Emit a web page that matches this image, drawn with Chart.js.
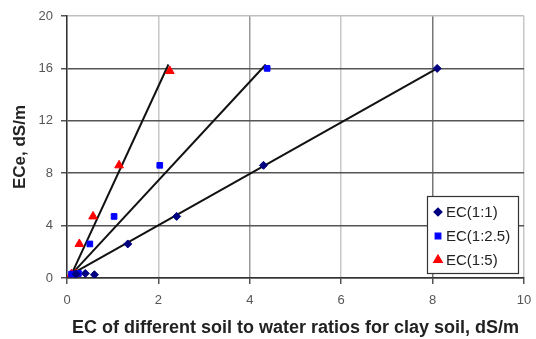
<!DOCTYPE html>
<html>
<head>
<meta charset="utf-8">
<script src="https://cdn.jsdelivr.net/npm/chart.js@4/dist/chart.umd.min.js"></script>
<style>
html,body{margin:0;padding:0;background:#fff;}
#wrap{width:536px;height:339px;}
</style>
</head>
<body>
<div id="wrap"><canvas id="myChart" width="536" height="339"></canvas></div>
<script>
// EC(1:1) - navy diamonds
var ec11X = [0.2, 0.4, 0.6, 1.33, 2.4, 4.3, 8.1];
var ec11Y = [0.3, 0.35, 0.25, 2.6, 4.7, 8.6, 16];
// EC(1:2.5) - blue squares
var ec25X = [0.1, 0.25, 0.5, 1.03, 2.03, 4.38];
var ec25Y = [0.3, 0.35, 2.6, 4.7, 8.6, 16];
// EC(1:5) - red triangles
var ec15X = [0.1, 0.2, 0.27, 0.57, 1.14, 2.25];
var ec15Y = [0.3, 0.3, 2.6, 4.7, 8.6, 15.8];
// fitted lines, start and end points
var fit11X = [0.1, 8.1], fit11Y = [0.3, 16];
var fit25X = [0.1, 4.35], fit25Y = [0.3, 16.3];
var fit15X = [0.1, 2.22], fit15Y = [0.3, 16.3];

var xTicks = [0, 2, 4, 6, 8, 10];
var yTicks = [0, 4, 8, 12, 16, 20];
var labels = ['EC(1:1)', 'EC(1:2.5)', 'EC(1:5)'];
var xTitle = 'EC of different soil to water ratios for clay soil, dS/m';
var yTitle = 'ECe, dS/m';

var FONT = '"Liberation Sans", Arial, sans-serif';

function pts(xs, ys){
    var a = [];
    for(var i=0;i<xs.length;i++) a.push({x: xs[i], y: ys[i]});
    return a;
}

function fitLine(xs, ys){
    return {
        data: pts(xs, ys), showLine: true, borderColor: '#111', borderWidth: 2,
        pointRadius: 0, fill: false, order: 5
    };
}

var markers = [
    {label: labels[0], data: pts(ec11X, ec11Y), pointStyle: 'rectRot', pointRadius: 4, backgroundColor: '#000080', borderColor: '#000080'},
    {label: labels[1], data: pts(ec25X, ec25Y), pointStyle: 'rect', pointRadius: 4, backgroundColor: '#0000ff', borderColor: '#0000ff'},
    {label: labels[2], data: pts(ec15X, ec15Y), pointStyle: 'triangle', pointRadius: 5, backgroundColor: '#ff0000', borderColor: '#ff0000'}
];

var boxLegend = {
    id: 'boxLegend',
    afterDraw: function(chart){
        var ctx = chart.ctx, ca = chart.chartArea;
        var w = 91, h = 77;
        var x0 = ca.right - 97, y0 = ca.bottom - 82;
        ctx.save();
        ctx.fillStyle = '#fff';
        ctx.fillRect(x0, y0, w, h);
        ctx.strokeStyle = '#333';
        ctx.lineWidth = 1.2;
        ctx.strokeRect(x0 + 0.5, y0 + 0.5, w, h);
        ctx.font = '15px ' + FONT;
        ctx.textBaseline = 'middle';
        for(var i=0;i<markers.length;i++){
            var m = markers[i];
            var cy = y0 + 16 + i * 24;
            ctx.fillStyle = m.backgroundColor;
            ctx.strokeStyle = m.borderColor;
            Chart.helpers.drawPoint(ctx, {pointStyle: m.pointStyle, radius: m.pointRadius, borderWidth: 1, rotation: 0}, x0 + 11, cy);
            ctx.fillStyle = '#222';
            ctx.fillText(m.label, x0 + 19, cy + 1);
        }
        ctx.restore();
    }
};

var ctx = document.getElementById('myChart').getContext('2d');
var myChart = new Chart(ctx, {
    type: 'scatter',
    data: {
        datasets: markers.concat([fitLine(fit11X, fit11Y), fitLine(fit25X, fit25Y), fitLine(fit15X, fit15Y)])
    },
    options: {
        responsive: false,
        animation: false,
        layout: {padding: {top: 16, right: 12, left: 0, bottom: 0}},
        plugins: {legend: {display: false}, tooltip: {enabled: false}},
        scales: {
            x: {
                type: 'linear', min: 0, max: 10,
                afterBuildTicks: function(s){ s.ticks = xTicks.map(function(v){ return {value: v}; }); },
                afterFit: function(s){ s.height = 61; s.paddingRight = 0; s.paddingLeft = 0; },
                grid: {
                    color: function(c){
                        var v = c.tick ? c.tick.value : 0;
                        if(v == 8) return '#777';
                        if(v == 4) return '#999';
                        return '#c8c8c8';
                    },
                    lineWidth: 1.5, tickLength: 6, tickColor: '#555'
                },
                border: {color: '#333', width: 1.5},
                ticks: {color: '#555', padding: 9, maxRotation: 0, font: {family: FONT, size: 13}},
                title: {display: true, text: xTitle, color: '#222', padding: {top: 1, bottom: 0},
                    font: {family: FONT, size: 18, weight: 'bold'}}
            },
            y: {
                type: 'linear', min: 0, max: 20,
                afterBuildTicks: function(s){ s.ticks = yTicks.map(function(v){ return {value: v}; }); },
                afterFit: function(s){ s.width = 67; s.paddingTop = 0; s.paddingBottom = 0; },
                grid: {
                    color: function(c){
                        var v = c.tick ? c.tick.value : 0;
                        if(v == 20) return '#c0c0c0';
                        return '#555';
                    },
                    lineWidth: 1.5, tickLength: 6, tickColor: '#555'
                },
                border: {color: '#333', width: 1.5},
                ticks: {color: '#555', padding: 8, font: {family: FONT, size: 13}},
                title: {display: true, text: yTitle, color: '#222', padding: {top: 10, bottom: 0},
                    font: {family: FONT, size: 17, weight: 'bold'}}
            }
        }
    },
    plugins: [boxLegend]
});
</script>
</body>
</html>
